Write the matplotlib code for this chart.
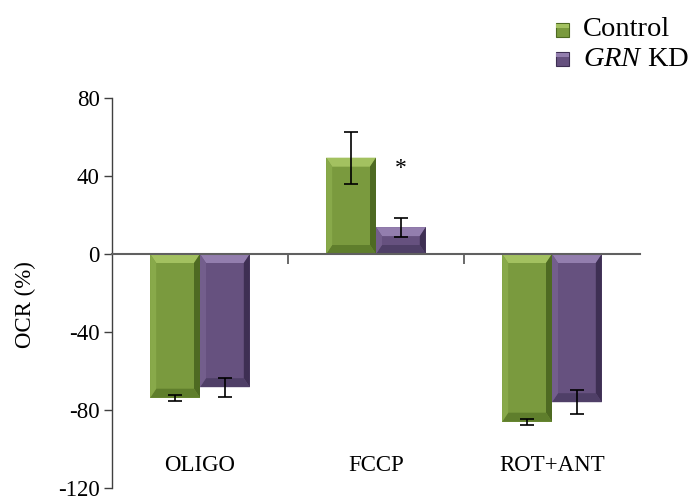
import matplotlib
matplotlib.use("Agg")
import matplotlib.pyplot as plt
from matplotlib.patches import Polygon, Rectangle
import numpy as np

categories = ["OLIGO", "FCCP", "ROT+ANT"]
series = ["Control", "GRN KD"]
control_vals = [-73.7, 49.4, -86.0]
control_err = [1.5, 13.3, 1.5]
kd_vals = [-68.3, 13.8, -76.0]
kd_err = [4.8, 4.9, 6.3]
yticks = [80, 40, 0, -40, -80, -120]
star_cat = 1
star_y = 44

plt.rcParams['font.family'] = ['Liberation Serif', 'DejaVu Serif']
plt.rcParams['mathtext.fontset'] = 'custom'
plt.rcParams['mathtext.it'] = 'Liberation Serif:italic'
plt.rcParams['mathtext.rm'] = 'Liberation Serif'

W, H = 693, 501
fig = plt.figure(figsize=(W / 100, H / 100), dpi=100)
ax_left, ax_right, ax_top, ax_bot = 112, 640, 98, 488
ax = fig.add_axes([ax_left / W, (H - ax_bot) / H, (ax_right - ax_left) / W, (ax_bot - ax_top) / H])
ax.set_xlim(-0.5, 2.5)
ax.set_ylim(-120, 80)

palettes = [
    dict(base="#7a9a3e", top="#a3c160", left="#88a94a", right="#4e6a22", bottom="#5f7e2c"),
    dict(base="#66517f", top="#937eae", left="#735e8c", right="#3e2f53", bottom="#4f3f67"),
]

x = np.arange(len(categories))
bw = 0.283
vals_list = [control_vals, kd_vals]
err_list = [control_err, kd_err]
offsets = [-bw / 2, bw / 2]

sx = 3.0 / (ax_right - ax_left)
sy = 200.0 / (ax_bot - ax_top)
bx = 6 * sx
by_px = 9

def bevel(rect, pal):
    x0 = rect.get_x(); w = rect.get_width()
    y0 = rect.get_y(); h = rect.get_height()
    x1 = x0 + w
    ylo, yhi = min(y0, y0 + h), max(y0, y0 + h)
    by = min(by_px * sy, (yhi - ylo) / 2.5)
    ox = [(x0, yhi), (x1, yhi), (x1, ylo), (x0, ylo)]
    ix = [(x0 + bx, yhi - by), (x1 - bx, yhi - by), (x1 - bx, ylo + by), (x0 + bx, ylo + by)]
    faces = [
        ([ox[0], ox[1], ix[1], ix[0]], pal["top"]),
        ([ox[1], ox[2], ix[2], ix[1]], pal["right"]),
        ([ox[2], ox[3], ix[3], ix[2]], pal["bottom"]),
        ([ox[3], ox[0], ix[0], ix[3]], pal["left"]),
    ]
    for pts, c in faces:
        ax.add_patch(Polygon(pts, closed=True, facecolor=c, edgecolor='none', zorder=2.5))

for vals, errs, off, pal in zip(vals_list, err_list, offsets, palettes):
    bars = ax.bar(x + off, vals, width=bw, color=pal["base"], edgecolor='none', zorder=2)
    for r in bars:
        bevel(r, pal)
    ax.errorbar(x + off, vals, yerr=errs, fmt='none', ecolor='black', elinewidth=1.2,
                capsize=5, capthick=1.2, zorder=4)

ax.text(x[star_cat] + offsets[1], star_y, '*', ha='center', va='center', fontsize=17, zorder=5)

for xi, cat in zip(x, categories):
    ax.text(xi, -108.5, cat, ha='center', va='center', fontsize=16.5)

ax.spines['top'].set_visible(False)
ax.spines['right'].set_visible(False)
ax.spines['bottom'].set_position(('data', 0))
ax.spines['bottom'].set_color('#606060')
ax.spines['bottom'].set_linewidth(1.5)
ax.spines['bottom'].set_zorder(3)
ax.spines['left'].set_color('#404040')
ax.spines['left'].set_linewidth(1.0)
ax.set_xticks([0.5, 1.5])
ax.set_xticklabels([])
ax.tick_params(axis='x', direction='out', length=7, width=1.2, color='#505050')
ax.set_yticks(yticks)
ax.set_yticklabels([str(t) for t in yticks], fontsize=16.5)
ax.tick_params(axis='y', direction='out', length=6, width=1.0, color='#404040', pad=3)
ax.set_ylabel("OCR (%)", fontsize=16.5)
ax.yaxis.label.set_va('center')
ax.yaxis.set_label_coords((25 - ax_left) / (ax_right - ax_left), (ax_bot - 305) / (ax_bot - ax_top))

# legend
leg_labels = ["Control", r"$\mathit{GRN}$ KD"]
leg_y = [30, 59]
for lab, yy, pal in zip(leg_labels, leg_y, palettes):
    s = 13
    fig.add_artist(Rectangle(((562 - s / 2) / W, (H - yy - s / 2) / H), s / W, s / H,
                             transform=fig.transFigure, facecolor=pal["base"],
                             edgecolor=pal["right"], linewidth=0.8))
    fig.add_artist(Rectangle(((562 - s / 2) / W, (H - yy + s / 2 - 4) / H), s / W, 4 / H,
                             transform=fig.transFigure, facecolor=pal["top"], edgecolor='none'))
    fig.text(583 / W, (H - yy) / H, lab, fontsize=20.5, ha='left', va='center')

fig.savefig("out.png", dpi=100)
